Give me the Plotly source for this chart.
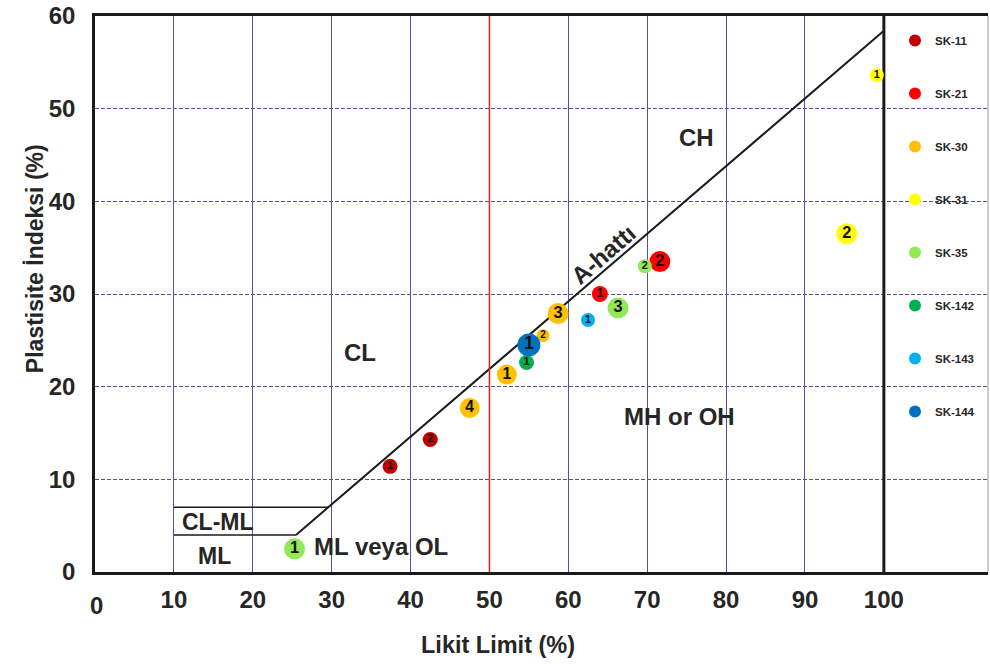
import numpy as np
import plotly.graph_objects as go

# ---------------- data ----------------
series_names = ["SK-11", "SK-21", "SK-30", "SK-31", "SK-35", "SK-142", "SK-143", "SK-144"]
ll_sk11 = [37.4, 42.5];             pi_sk11 = [11.4, 14.3];             lab_sk11 = ["1", "2"]
ll_sk21 = [64.0, 71.6];             pi_sk21 = [30.0, 33.5];             lab_sk21 = ["1", "2"]
ll_sk30 = [52.2, 56.8, 58.7, 47.5]; pi_sk30 = [21.3, 25.5, 27.9, 17.7]; lab_sk30 = ["1", "2", "3", "4"]
ll_sk31 = [99.1, 95.3];             pi_sk31 = [53.6, 36.5];             lab_sk31 = ["1", "2"]
ll_sk35 = [25.3, 69.7, 66.3];       pi_sk35 = [2.5, 33.0, 28.5];        lab_sk35 = ["1", "2", "3"]
ll_sk142 = [54.7];                  pi_sk142 = [22.6];                  lab_sk142 = ["1"]
ll_sk143 = [62.5];                  pi_sk143 = [27.2];                  lab_sk143 = ["1"]
ll_sk144 = [55.0];                  pi_sk144 = [24.5];                  lab_sk144 = ["1"]

x_ticks = [10, 20, 30, 40, 50, 60, 70, 80, 90, 100]
y_ticks = [0, 10, 20, 30, 40, 50, 60]

# ---------------- styles ----------------
colors = ["#C00000", "#FF0000", "#FFC000", "#FFFF00", "#92E856", "#00B050", "#00B0F0", "#0070C0"]
sizes = [[15, 15], [16, 21], [20, 13, 21, 20], [14, 21], [21, 14, 21], [15], [14], [23]]

all_ll = [ll_sk11, ll_sk21, ll_sk30, ll_sk31, ll_sk35, ll_sk142, ll_sk143, ll_sk144]
all_pi = [pi_sk11, pi_sk21, pi_sk30, pi_sk31, pi_sk35, pi_sk142, pi_sk143, pi_sk144]
all_lab = [lab_sk11, lab_sk21, lab_sk30, lab_sk31, lab_sk35, lab_sk142, lab_sk143, lab_sk144]

FONT = "Liberation Sans, Arial, sans-serif"
TXT = "#262626"
GRID = "#5050A0"

fig = go.Figure()

# A-line: PI = 0.73 (LL - 20), from PI = 4 up to LL = 100
a_ll = np.array([20 + 4 / 0.73, 100.0])
fig.add_trace(go.Scatter(x=a_ll, y=0.73 * (a_ll - 20), mode="lines",
                         line=dict(color="#1a1a1a", width=2), showlegend=False, hoverinfo="skip"))
# CL-ML zone boundaries
fig.add_trace(go.Scatter(x=[10, 20 + 7 / 0.73], y=[7, 7], mode="lines",
                         line=dict(color="#1a1a1a", width=1.5), showlegend=False, hoverinfo="skip"))
fig.add_trace(go.Scatter(x=[10, 20 + 4 / 0.73], y=[4, 4], mode="lines",
                         line=dict(color="#1a1a1a", width=1.5), showlegend=False, hoverinfo="skip"))
# LL = 50 line
fig.add_trace(go.Scatter(x=[50, 50], y=[0, 60], mode="lines",
                         line=dict(color="#E02020", width=1.5), showlegend=False, hoverinfo="skip"))
# LL = 100 boundary
fig.add_trace(go.Scatter(x=[100, 100], y=[0, 60], mode="lines",
                         line=dict(color="#1a1a1a", width=3), showlegend=False, hoverinfo="skip"))

for i, name in enumerate(series_names):
    fig.add_trace(go.Scatter(
        x=all_ll[i], y=all_pi[i], mode="markers", name=name, legendgroup=name,
        marker=dict(color=colors[i], size=sizes[i], opacity=1, line=dict(width=0)),
    ))
for i, name in enumerate(series_names):
    fig.add_trace(go.Scatter(
        x=all_ll[i], y=all_pi[i], mode="text", text=all_lab[i], showlegend=False,
        textposition="middle center", hoverinfo="skip",
        textfont=dict(family=FONT, color="#111", size=[max(9, s * 0.78) for s in sizes[i]], weight="bold"),
    ))

region_labels = [
    ("CH", 76.3, 46.9, 24, 0),
    ("CL", 33.6, 23.7, 24, 0),
    ("MH or OH", 74.1, 16.8, 24, 0),
    ("CL-ML", 15.6, 5.4, 23, 0),
    ("ML", 15.1, 1.7, 23, 0),
    ("ML veya OL", 36.2, 2.7, 24, 0),
    ("A-hattı", 64.4, 34.3, 24, -41),
]
for t, x, y, s, ang in region_labels:
    fig.add_annotation(x=x, y=y, xref="x", yref="y", text=t, showarrow=False, textangle=ang,
                       font=dict(family=FONT, size=s, color=TXT, weight="bold"))

# x tick "0" sits a little lower in the reference
fig.add_annotation(x=0.2, y=-(606 - 572) / 558, xref="x", yref="paper", text="0", showarrow=False,
                   yanchor="middle", font=dict(family=FONT, size=24, color=TXT, weight="bold"))
# axis titles
fig.add_annotation(x=(498 - 95) / 893, y=-(645 - 572) / 558, xref="paper", yref="paper",
                   text="Likit Limit (%)", showarrow=False, yanchor="middle",
                   font=dict(family=FONT, size=23.5, color=TXT, weight="bold"))
fig.add_annotation(x=-(95 - 35) / 893, y=(572 - 258) / 558, xref="paper", yref="paper",
                   text="Plastisite İndeksi (%)", showarrow=False, textangle=-90, xanchor="center",
                   font=dict(family=FONT, size=23, color=TXT, weight="bold"))

# thin right edge of the frame
fig.add_shape(type="line", xref="paper", yref="paper", x0=1, x1=1, y0=0, y1=1,
              line=dict(color="#999999", width=1))

fig.update_layout(
    width=990, height=664,
    margin=dict(l=95, r=2, t=14, b=92),
    paper_bgcolor="white", plot_bgcolor="white",
    font=dict(family=FONT, color=TXT),
    xaxis=dict(range=[0, 113.2], tickvals=x_ticks, ticktext=[str(v) for v in x_ticks],
               showgrid=True, gridcolor=GRID, gridwidth=1, zeroline=False,
               showline=True, linecolor="#1a1a1a", linewidth=2.5, mirror=True,
               ticks="", ticklabelstandoff=4,
               tickfont=dict(family=FONT, size=24, color=TXT, weight="bold")),
    yaxis=dict(range=[0, 60], tickvals=y_ticks, showgrid=True, gridcolor=GRID, gridwidth=1,
               griddash="4px,2px", zeroline=False,
               showline=True, linecolor="#1a1a1a", linewidth=2.5, mirror=False,
               ticks="", ticklabelstandoff=12,
               tickfont=dict(family=FONT, size=24, color=TXT, weight="bold")),
    legend=dict(x=(895 - 95) / 893, y=(572 - 24) / 558, xanchor="left", yanchor="top",
                bgcolor="rgba(0,0,0,0)", borderwidth=0, itemsizing="constant",
                tracegroupgap=34, itemwidth=30,
                font=dict(family=FONT, size=11.5, color=TXT, weight="bold")),
)

fig.write_html("out.html")
